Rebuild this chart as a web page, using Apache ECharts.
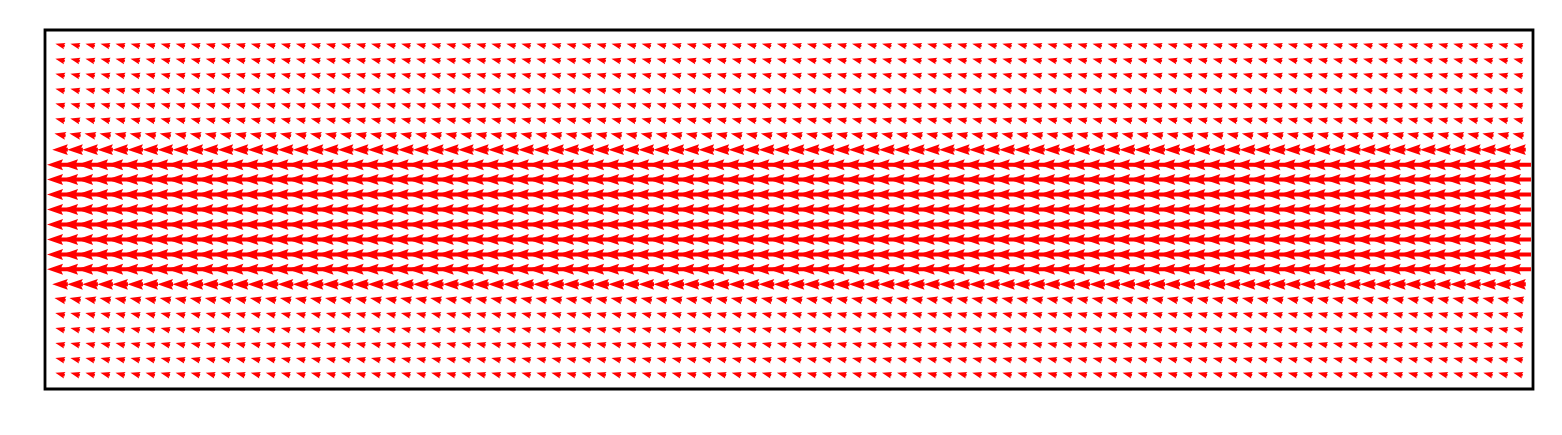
<!DOCTYPE html>
<html>
<head>
<meta charset="utf-8">
<script src="https://cdn.jsdelivr.net/npm/echarts@6/dist/echarts.min.js"></script>
<style>html,body{margin:0;padding:0;background:#fff;}#c{width:1562px;height:435px;}</style>
</head>
<body>
<div id="c"></div>
<script>
// Grid column positions (x) and row positions (y, listed from top to bottom)
const xCols = [0,1,2,3,4,5,6,7,8,9,10,11,12,13,14,15,16,17,18,19,20,21,22,23,24,25,26,27,28,29,30,31,32,33,34,35,36,37,38,39,40,41,42,43,44,45,46,47,48,49,50,51,52,53,54,55,56,57,58,59,60,61,62,63,64,65,66,67,68,69,70,71,72,73,74,75,76,77,78,79,80,81,82,83,84,85,86,87,88,89,90,91,92,93,94,95,96,97];
const yRows = [22,21,20,19,18,17,16,15,14,13,12,11,10,9,8,7,6,5,4,3,2,1,0];
// Velocity components per row (top to bottom)
const uRow = [-0.36,-0.36,-0.36,-0.36,-0.36,-0.37,-0.43,-0.60,-1.00,-1.00,-1.00,-1.00,-1.00,-1.00,-1.00,-1.00,-0.60,-0.43,-0.37,-0.36,-0.36,-0.36,-0.36];
const vRow = [0.09,0.09,0.09,0.09,0.09,0.09,0.09,0.0,0.0,0.0,0.0,0.0,0.0,0.0,0.0,0.0,0.0,0.09,0.09,0.09,0.09,0.09,0.09];

const data = [];
yRows.forEach((y, i) => {
  xCols.forEach(x => { data.push([x, y, uRow[i], vRow[i]]); });
});

const SCALE = 26;   // px per velocity unit
const W = 4, HL = 16, HAL = 14.4, HW = 11;

function renderItem(params, api) {
  const x = api.value(0), y = api.value(1), u = api.value(2), v = api.value(3);
  const c = api.coord([x, y]);
  const mag = Math.hypot(u, v);
  if (mag === 0) return null;
  const L = mag * SCALE;
  const dx = u / mag, dy = -v / mag;
  const px = -dy, py = dx;
  let local;
  if (L >= HL) {
    local = [[0, W/2],[L-HAL, W/2],[L-HL, HW/2],[L, 0],[L-HL, -HW/2],[L-HAL, -W/2],[0, -W/2]];
  } else {
    const k = L / HL;
    local = [[0, W/2],[HL-HAL, W/2],[0, HW/2],[HL, 0],[0, -HW/2],[HL-HAL, -W/2],[0, -W/2]].map(p => [p[0]*k, p[1]*k]);
  }
  const pts = local.map(p => {
    const a = p[0] - L/2, b = p[1];
    return [c[0] + a*dx + b*px, c[1] + a*dy + b*py];
  });
  return { type: 'polygon', shape: { points: pts }, style: { fill: '#ff0000' } };
}

const chart = echarts.init(document.getElementById('c'));
chart.setOption({
  animation: false,
  backgroundColor: '#fff',
  grid: { left: 45, top: 30, width: 1488, height: 359, show: true, borderColor: '#000', borderWidth: 2.8, backgroundColor: 'transparent' },
  xAxis: { type: 'value', min: -1, max: 98, show: false },
  yAxis: { type: 'value', min: -1, max: 23, show: false },
  series: [{ type: 'custom', renderItem: renderItem, data: data, clip: true, z: 1 }]
});
</script>
</body>
</html>
